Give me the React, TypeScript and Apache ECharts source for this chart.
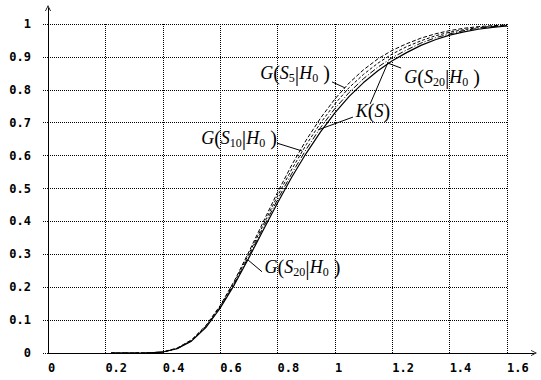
import React, { useEffect, useRef } from "react";
import * as echarts from "echarts";

const S = [0.22, 0.3, 0.35, 0.4, 0.45, 0.5, 0.55, 0.6, 0.65, 0.7, 0.75, 0.8, 0.85, 0.9, 0.95, 1.0, 1.05, 1.1, 1.15, 1.2, 1.25, 1.3, 1.35, 1.4, 1.45, 1.5, 1.55, 1.6];
const K = [0, 0, 0.0003, 0.003, 0.013, 0.036, 0.077, 0.136, 0.208, 0.289, 0.373, 0.456, 0.535, 0.607, 0.672, 0.73, 0.78, 0.822, 0.858, 0.888, 0.913, 0.935, 0.952, 0.966, 0.976, 0.984, 0.99, 0.994];
const G5 = [0, 0, 0.0003, 0.003, 0.015, 0.04, 0.083, 0.144, 0.22, 0.307, 0.398, 0.488, 0.572, 0.647, 0.714, 0.772, 0.821, 0.861, 0.894, 0.92, 0.94, 0.957, 0.97, 0.98, 0.987, 0.992, 0.995, 0.997];
const G10 = [0, 0, 0.0003, 0.003, 0.014, 0.038, 0.081, 0.141, 0.216, 0.301, 0.389, 0.477, 0.559, 0.633, 0.699, 0.757, 0.807, 0.847, 0.881, 0.909, 0.931, 0.949, 0.964, 0.975, 0.983, 0.989, 0.993, 0.996];
const G20 = [0, 0, 0.0003, 0.003, 0.013, 0.037, 0.079, 0.138, 0.212, 0.294, 0.381, 0.466, 0.546, 0.619, 0.685, 0.743, 0.792, 0.834, 0.869, 0.898, 0.921, 0.942, 0.958, 0.97, 0.98, 0.987, 0.992, 0.995];

// annotation labels: [center s, center value, sub index]
const LABELS = [
  { sub: "5", at: [0.861, 0.85] },
  { sub: "10", at: [0.666, 0.655] },
  { sub: "20", at: [1.374, 0.839] },
  { sub: "20", at: [0.887, 0.261] },
];
const K_LABEL_AT = [1.133, 0.737];
// leader lines (data coords)
const LEADERS = [
  [[0.99, 0.824], [1.035, 0.806]],
  [[1.063, 0.717], [0.941, 0.678]],
  [[1.123, 0.757], [1.186, 0.885]],
  [[0.798, 0.638], [0.886, 0.614]],
  [[1.231, 0.866], [1.182, 0.882]],
  [[0.746, 0.247], [0.697, 0.283]],
];

const serif = "'Liberation Serif', 'DejaVu Serif', serif";
const rich = {
  it: { fontFamily: serif, fontStyle: "italic", fontSize: 18, color: "#000", lineHeight: 22 },
  p: { fontFamily: serif, fontSize: 20, color: "#000", lineHeight: 22 },
  sub: { fontFamily: serif, fontSize: 12, color: "#000", lineHeight: 14, verticalAlign: "bottom" },
  bar: { fontFamily: serif, fontSize: 22, color: "#000", lineHeight: 22 },
};

const ARROW = "path://M5,0 L10,10 L8.6,10 L5,2.8 L1.4,10 L0,10 Z";

export default function App() {
  const ref = useRef<HTMLDivElement>(null);
  useEffect(() => {
    const chart = echarts.init(ref.current!, undefined, { renderer: "svg" });
    const mk = (arr: number[]) => S.map((s, i) => [s, arr[i]]);
    const labelFont = { fontFamily: "'DejaVu Sans Mono', monospace", fontWeight: "bold", fontSize: 12, color: "#000" };
    chart.setOption({
      animation: false,
      backgroundColor: "#fff",
      grid: [
        { left: 48, right: 34, top: 24, bottom: 27 },
        { left: 48, right: 7, top: 8, bottom: 27 },
      ],
      xAxis: [
        {
          type: "value", gridIndex: 0, min: 0, max: 1.6, interval: 0.2,
          axisLine: { show: false }, axisTick: { show: false },
          splitLine: { show: true, lineStyle: { color: "#000", type: [1, 1], width: 1 } },
          axisLabel: { ...labelFont, align: "left", margin: 9, formatter: (v: number) => String(+v.toFixed(1)) },
        },
        {
          type: "value", gridIndex: 1, min: 0, max: 1,
          axisLine: { show: true, lineStyle: { color: "#000", width: 1 }, symbol: ["none", ARROW], symbolSize: [6, 7], symbolOffset: [0, 0] },
          axisTick: { show: false }, axisLabel: { show: false }, splitLine: { show: false },
        },
      ],
      yAxis: [
        {
          type: "value", gridIndex: 0, min: 0, max: 1, interval: 0.1,
          axisLine: { show: false },
          axisTick: { show: true, length: 5, lineStyle: { color: "#000", type: [1, 1] } },
          splitLine: { show: true, lineStyle: { color: "#000", type: [1, 1], width: 1 } },
          axisLabel: { ...labelFont, margin: 17, padding: [4, 0, 0, 0], formatter: (v: number) => String(+v.toFixed(1)) },
        },
        {
          type: "value", gridIndex: 1, min: 0, max: 1,
          axisLine: { show: true, lineStyle: { color: "#000", width: 1 }, symbol: ["none", ARROW], symbolSize: [6, 7] },
          axisTick: { show: false }, axisLabel: { show: false }, splitLine: { show: false },
        },
      ],
      series: [
        {
          name: "K(S)", type: "line", xAxisIndex: 0, yAxisIndex: 0, data: mk(K), showSymbol: false,
          lineStyle: { color: "#000", width: 1.2 },
          markLine: {
            silent: true, symbol: ["none", "none"], label: { show: false },
            lineStyle: { color: "#000", width: 1, type: "solid" },
            data: LEADERS.map(([a, b]) => [{ coord: a }, { coord: b }]),
          },
          markPoint: {
            silent: true, symbol: "circle", symbolSize: 1, itemStyle: { color: "rgba(0,0,0,0)" },
            label: { show: true, position: "inside", rich },
            data: [
              ...LABELS.map((l) => ({
                coord: l.at,
                label: { formatter: `{it|G}{p|(}{it|S}{sub|${l.sub}}{bar||}{it|H}{sub|0}{p| )}` },
              })),
              { coord: K_LABEL_AT, label: { formatter: "{it|K}{p|(}{it|S}{p|)}" } },
            ],
          },
        },
        { name: "G5", type: "line", data: mk(G5), showSymbol: false, lineStyle: { color: "#000", width: 1, type: [4, 2] } },
        { name: "G10", type: "line", data: mk(G10), showSymbol: false, lineStyle: { color: "#000", width: 1, type: [3, 2] } },
        { name: "G20", type: "line", data: mk(G20), showSymbol: false, lineStyle: { color: "#000", width: 1, type: [6, 2, 1, 2] } },
      ],
    });
    return () => chart.dispose();
  }, []);
  return <div ref={ref} style={{ width: 541, height: 380, position: "absolute", left: 0, top: 0 }} />;
}
